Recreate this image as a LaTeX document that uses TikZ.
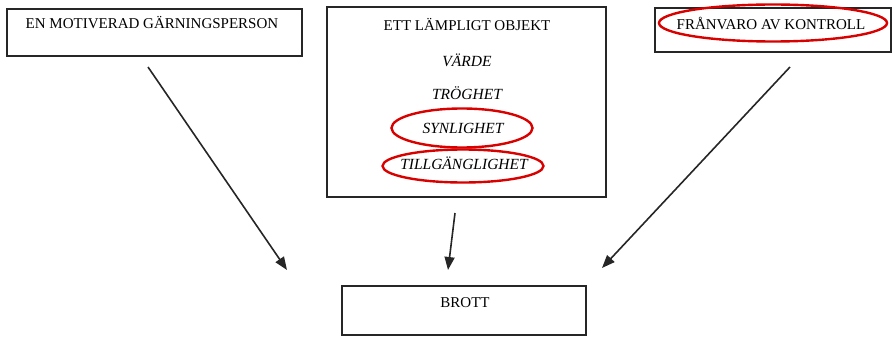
\documentclass[tikz,border=0pt]{standalone}
\usepackage{fontspec}
\setmainfont{Liberation Serif}
\usetikzlibrary{shapes.geometric,arrows.meta}
\begin{document}
\begin{tikzpicture}[x=1pt,y=-1pt,
  box/.style={draw=black!85,line width=1.5pt},
  lbl/.style={font=\fontsize{15}{17}\selectfont,inner sep=0pt,anchor=center},
  ilbl/.style={lbl,font=\fontsize{15.5}{17}\selectfont\itshape},
  ring/.style={draw=red!85!black,line width=2.4pt,ellipse,inner sep=0pt},
  arr/.style={draw=black!85,line width=1.6pt,-{Triangle[length=13pt,width=10pt]}}]
\useasboundingbox (0,0) rectangle (895,337);
% boxes
\draw[box] (7,9) rectangle (302,56);
\draw[box] (327,7) rectangle (606,197);
\draw[box] (655,8) rectangle (891,52);
\draw[box] (342,286) rectangle (586,335);
% texts
\node[lbl] (a) at (152,23) {EN MOTIVERAD GÄRNINGSPERSON};
\node[lbl] (b) at (467,24) {ETT LÄMPLIGT OBJEKT};
\node[ilbl] (b1) at (467,60) {VÄRDE};
\node[ilbl] (b2) at (467,93) {TRÖGHET};
\node[ilbl] (b3) at (463,128) {SYNLIGHET};
\node[ilbl] (b4) at (464,163) {TILLGÄNGLIGHET};
\node[lbl] (c) at (771,23) {FRÅNVARO AV KONTROLL};
\node[lbl] (d) at (465,303) {BROTT};
% red ellipses
\node[ring,minimum width=141pt,minimum height=39pt] (e1) at (462,128) {};
\node[ring,minimum width=161pt,minimum height=33pt] (e2) at (463,166) {};
\node[ring,minimum width=228pt,minimum height=37pt] (e3) at (773,23) {};
% arrows
\coordinate (s1) at (148,67);
\coordinate (t1) at (287,270);
\coordinate (s2) at (455,213);
\coordinate (t2) at (448,270);
\coordinate (s3) at (790,67);
\coordinate (t3) at (602,268);
\draw[arr] (s1) -- (t1);
\draw[arr] (s2) -- (t2);
\draw[arr] (s3) -- (t3);
\end{tikzpicture}
\end{document}
